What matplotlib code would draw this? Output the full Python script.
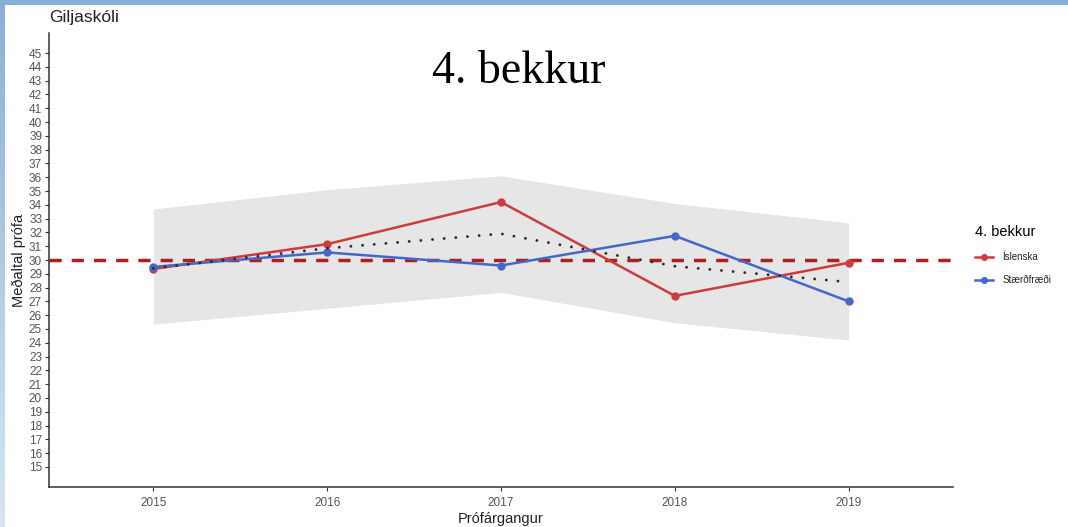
#!/usr/bin/env python3
import numpy as np
import matplotlib
matplotlib.use("Agg")
import matplotlib.pyplot as plt
from matplotlib.lines import Line2D
from matplotlib.patches import Rectangle

# -------------------------------
# DATA
# -------------------------------
years = [2015, 2016, 2017, 2018, 2019]
islenska = [29.35, 31.15, 34.2, 27.4, 29.8]
staerdfraedi = [29.5, 30.55, 29.6, 31.75, 27.0]
medaltal = [29.4, 30.85, 31.9, 29.55, 28.4]      # dotted line
band_upper = [33.7, 35.1, 36.1, 34.1, 32.7]      # grey band
band_lower = [25.35, 26.5, 27.65, 25.45, 24.2]
reference_value = 30
y_ticks = list(range(15, 46))

school = "Giljaskóli"
title = "4. bekkur"
series_labels = ["Íslenska", "Stærðfræði"]
x_label = "Prófárgangur"
y_label = "Meðaltal prófa"

RED = "#cf3a3a"
BLUE = "#4467cc"
DASH_RED = "#b01e1e"
TEXT_GREY = "#555555"

W, H = 1068, 527
plt.rcParams['font.family'] = ['Liberation Sans', 'DejaVu Sans']

fig = plt.figure(figsize=(W / 100, H / 100), dpi=100)
fig.patch.set_facecolor("white")

# slide border: top strip and left gradient strip
fig.add_artist(Rectangle((0, 1 - 5 / H), 1, 5 / H, transform=fig.transFigure,
                         facecolor="#86aed6", edgecolor="none", zorder=0))
edge_ax = fig.add_axes([0, 0, 5 / W, 1 - 5 / H])
grad = np.linspace(0, 1, 256).reshape(-1, 1)
edge_ax.imshow(grad, aspect="auto", cmap=matplotlib.colors.LinearSegmentedColormap.from_list(
    "edge", ["#8ab0d6", "#d6e6f1"]))
edge_ax.axis("off")

ax = fig.add_axes([49 / W, 1 - 487 / H, (953 - 49) / W, (487 - 33) / H])

# grey band
ax.fill_between(years, band_lower, band_upper, color="#e6e6e6", linewidth=0, zorder=1)

# reference line at 30
ax.axhline(reference_value, color=DASH_RED, linewidth=2.5, dashes=(3.5, 2.9), zorder=2)

# series
ax.plot(years, islenska, color=RED, linewidth=1.8, marker="o", markersize=5, zorder=3)
ax.plot(years, staerdfraedi, color=BLUE, linewidth=1.8, marker="o", markersize=5, zorder=3)

# dotted mean line
ax.plot(years, medaltal, color="#2a2a2a", linewidth=2.1, linestyle=(0, (0.01, 4.0)),
        dash_capstyle="round", zorder=4)

ax.set_xlim(2014.4, 2019.6)
ax.set_ylim(13.55, 46.45)
ax.set_xticks(years)
ax.set_xticklabels([str(y) for y in years])
ax.set_yticks(y_ticks)

for side in ["top", "right"]:
    ax.spines[side].set_visible(False)
for side in ["left", "bottom"]:
    ax.spines[side].set_color("#333333")
    ax.spines[side].set_linewidth(1.1)
ax.tick_params(axis="both", length=3, width=0.8, color="#333333",
               labelsize=8.5, labelcolor=TEXT_GREY, pad=2)
ax.tick_params(axis="x", pad=4)

ax.set_xlabel(x_label, fontsize=10.5, color="#222222", labelpad=2)
ax.set_ylabel(y_label, fontsize=10.5, color="#222222", labelpad=2)

# titles
fig.text(49 / W, 1 - 22 / H, school, fontsize=12.5, color="#222222", ha="left", va="baseline")
fig.text(519 / W, 1 - 83 / H, title, fontsize=33, family="Liberation Serif",
         color="black", ha="center", va="baseline")

# legend
handles = [Line2D([], [], color=RED, linewidth=1.8, marker="o", markersize=4),
           Line2D([], [], color=BLUE, linewidth=1.8, marker="o", markersize=4)]
leg = fig.legend(handles, series_labels, title=title, loc="upper left",
                 bbox_to_anchor=(975 / W, 1 - 225 / H), frameon=False,
                 fontsize=7, title_fontsize=10.5, handlelength=1.8, handletextpad=1.0,
                 labelspacing=1.35, borderpad=0, borderaxespad=0, alignment="left")
for t in leg.get_texts():
    t.set_color("#222222")

fig.savefig("out.png", dpi=100)
